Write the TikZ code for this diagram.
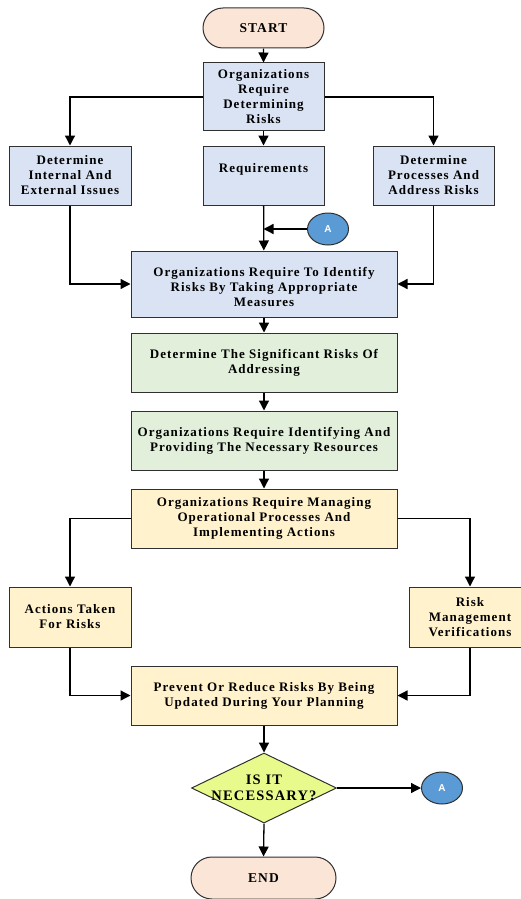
\documentclass[tikz,border=0pt]{standalone}
\usepackage{fontspec}
\setmainfont{Liberation Serif}[LetterSpace=8]
\newfontfamily\asans{Liberation Sans}
\usetikzlibrary{shapes.geometric,shapes.misc,arrows.meta}
\definecolor{peach}{HTML}{FBE5D6}
\definecolor{bluebox}{HTML}{DAE3F3}
\definecolor{greenbox}{HTML}{E2EFDA}
\definecolor{yellowbox}{HTML}{FFF2CC}
\definecolor{diafill}{HTML}{E8FA8C}
\definecolor{circ}{HTML}{5B9BD5}
\definecolor{edge}{HTML}{303030}
\tikzset{
  x=1pt, y=-1pt,
  base/.style={draw=edge, line width=1pt, align=center, inner sep=0pt,
    font=\fontsize{13}{15}\selectfont\bfseries},
  term/.style={base, rounded rectangle, fill=peach, minimum width=#1, minimum height=40pt,
    font=\fontsize{13.5}{15}\selectfont\bfseries},
  bbox/.style={base, rectangle, fill=bluebox},
  gbox/.style={base, rectangle, fill=greenbox, minimum width=266pt, minimum height=59pt},
  ybox/.style={base, rectangle, fill=yellowbox},
  conn/.style={draw=edge, line width=1pt, ellipse, fill=circ, minimum width=41pt, minimum height=32pt, inner sep=0pt,
    font=\asans\fontsize{10}{12}\selectfont\bfseries, text=white},
  arr/.style={line width=1.3pt, -{Triangle[length=10pt,width=10pt]}},
}
\begin{document}
\begin{tikzpicture}
\useasboundingbox (0,0) rectangle (520,899);
\node[term=121pt] (start) at (263.5,28) {START};
\node[bbox, minimum width=121pt, minimum height=67pt] (b1) at (263.5,96.5) {Organizations\\Require\\Determining\\Risks};
\node[bbox, minimum width=122pt, minimum height=59pt] (lft) at (70,175.5) {Determine\\Internal And\\External Issues};
\node[bbox, minimum width=121pt, minimum height=59pt] (mid) at (263.5,175.5) {Requirements\\\mbox{}};
\node[bbox, minimum width=121pt, minimum height=59pt] (rgt) at (433.5,175.5) {Determine\\Processes And\\Address Risks};
\node[conn] (a1) at (328,229) {A};
\node[bbox, minimum width=266pt, minimum height=66pt] (ident) at (264,284) {\mbox{}\\Organizations Require To Identify\\Risks By Taking Appropriate\\Measures};
\node[gbox] (g1) at (264,362.5) {Determine The Significant Risks Of\\Addressing};
\node[gbox] (g2) at (264,440.5) {Organizations Require Identifying And\\Providing The Necessary Resources};
\node[ybox, minimum width=266pt, minimum height=59pt] (y1) at (264,518.5) {Organizations Require Managing\\Operational Processes And\\Implementing Actions};
\node[ybox, minimum width=122pt, minimum height=60pt] (ly) at (70,617) {Actions Taken\\For Risks};
\node[ybox, minimum width=122pt, minimum height=60pt] (ry) at (470,617) {Risk\\Management\\Verifications};
\node[ybox, minimum width=266pt, minimum height=59pt] (prev) at (264,695.5) {Prevent Or Reduce Risks By Being\\Updated During Your Planning};
\node[draw=edge, line width=1pt, diamond, fill=diafill, minimum width=145pt, minimum height=70pt, inner sep=0pt] (dia) at (264,788) {};
\node[align=center, font=\fontsize{14.5}{16}\selectfont\bfseries] (diat) at (dia.center) {IS IT\\NECESSARY?};
\node[conn] (a2) at (442,788) {A};
\node[term=145pt, minimum height=42pt] (end) at (263.5,878) {END};
% connectors
\draw[arr] (start) -- (b1);
\draw[arr] (b1) -- (mid);
\draw[arr] (b1.west |- 0,97) -| (lft.north);
\draw[arr] (b1.east |- 0,97) -| (rgt.north);
\draw[arr] (mid) -- (ident);
\coordinate (ajoin) at (mid.south |- a1.west);
\draw[arr] (a1.west) -- (ajoin);
\draw[arr] (lft.south) |- (ident.west);
\draw[arr] (rgt.south) |- (ident.east);
\draw[arr] (ident) -- (g1);
\draw[arr] (g1) -- (g2);
\draw[arr] (g2) -- (y1);
\draw[arr] (y1.west) -| (ly.north);
\draw[arr] (y1.east) -| (ry.north);
\draw[arr] (ly.south) |- (prev.west);
\draw[arr] (ry.south) |- (prev.east);
\draw[arr] (prev) -- (dia);
\draw[arr] (dia.east) -- (a2.west);
\draw[arr] (dia.south) -- (end.north);
\end{tikzpicture}
\end{document}
